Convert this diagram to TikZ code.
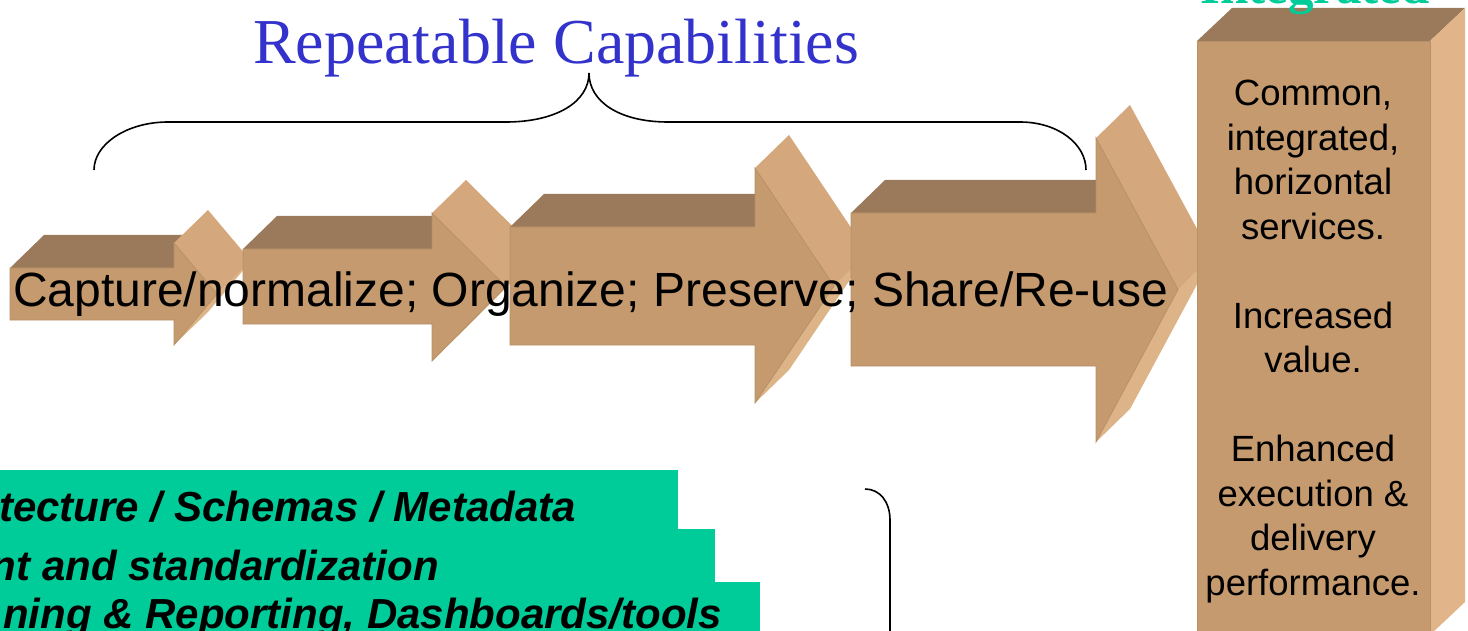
\documentclass[tikz,border=0pt]{standalone}
\usepackage{fontspec}
\setmainfont{Liberation Serif}
\newfontfamily\arialfont{Liberation Sans}
\definecolor{frontc}{HTML}{C49A6E}
\definecolor{topc}{HTML}{9A7A5A}
\definecolor{headupc}{HTML}{D4A87C}
\definecolor{headloc}{HTML}{DDB388}
\definecolor{sidec}{HTML}{E1B589}
\definecolor{edgec}{HTML}{B89066}
\definecolor{tealc}{HTML}{00CC99}
\definecolor{bluec}{HTML}{3333CC}
\newcommand{\dx}{34}
\newcommand{\dy}{-33}
% #1 x0, #2 ytop, #3 ybottom, #4 xhead, #5 yheadtop, #6 yheadbottom, #7 xtip
\newcommand{\tdarrow}[7]{%
  \pgfmathsetmacro\ym{(#2+#3)/2}%
  \fill[headloc] (#7,\ym) -- ++(\dx,\dy) -- (#4+\dx,#6+\dy) -- (#4,#6) -- cycle;
  \fill[topc] (#1,#2) -- (#4,#2) -- ++(\dx,\dy) -- (#1+\dx,#2+\dy) -- cycle;
  \fill[headupc] (#4,#5) -- ++(\dx,\dy) -- (#7+\dx,\ym+\dy) -- (#7,\ym) -- cycle;
  \draw[sidec, line width=0.8pt] (#4,#5) -- (#7,\ym);
  \filldraw[fill=frontc, draw=edgec, line width=0.8pt, line join=miter]
    (#1,#2) -- (#4,#2) -- (#4,#5) -- (#7,\ym) -- (#4,#6) -- (#4,#3) -- (#1,#3) -- cycle;
}
\tikzset{
  brace/.style={draw=black, line width=1.6pt},
  sans/.style={font=\arialfont, inner sep=0pt},
  greenbar/.style={fill=tealc},
  bartext/.style={font=\arialfont\bfseries\itshape\fontsize{42}{50}\selectfont, inner sep=0pt, anchor=base east}
}
\begin{document}
\begin{tikzpicture}[x=1pt,y=-1pt]
\useasboundingbox (0,0) rectangle (1468,631);
\clip (0,0) rectangle (1468,631);
% title
\node[font=\fontsize{64}{70}\selectfont, text=bluec, inner sep=0pt, anchor=base] (title) at (556,64) {Repeatable Capabilities};
% brace
\coordinate (bl) at (94,170);
\coordinate (bm) at (589,73);
\coordinate (br) at (1086,170);
\draw[brace] (bl) .. controls (94,144) and (127,122) .. (168,122) -- (506,122)
  .. controls (556,122) and (589,102) .. (bm)
  .. controls (589,102) and (620,122) .. (668,122) -- (1020,122)
  .. controls (1058,122) and (1086,144) .. (br);
% arrows
\tdarrow{10}{268}{320}{174}{243}{345}{217}
\tdarrow{243}{249}{324}{432}{213}{361}{506}
\tdarrow{510}{227}{345}{755}{168}{403}{834}
\tdarrow{851}{213}{366}{1096}{138}{442}{1178}
% right box
\fill[topc] (1197,41) -- (1430,41) -- (1465,8) -- (1232,8) -- cycle;
\fill[sidec] (1430,41) -- (1465,8) -- (1465,602) -- (1430,635) -- cycle;
\filldraw[fill=frontc, draw=edgec, line width=0.8pt] (1197,41) rectangle (1430,640);
\node[font=\bfseries\fontsize{51}{56}\selectfont, text=tealc, inner sep=0pt, anchor=base] (integ) at (1315,4) {Integrated};
% main text
\node[sans, font=\arialfont\fontsize{48}{56}\selectfont, anchor=base west] (main) at (13,306) {Capture/normalize; Organize; Preserve; Share/Re-use};
% box text
\node[sans, font=\arialfont\fontsize{36.5}{44.5}\selectfont, align=center, anchor=north] (boxtext) at (1313,80)
  {Common,\\integrated,\\horizontal\\services.\\[44.5pt]Increased\\value.\\[44.5pt]Enhanced\\execution \&\\delivery\\performance.};
% green bars
\fill[greenbar] (-5,470) rectangle (678,529);
\fill[greenbar] (-5,529) rectangle (715,582);
\fill[greenbar] (-5,582) rectangle (760,640);
\node[bartext] (bar1) at (576,521) {tecture / Schemas / Metadata};
\node[bartext] (bar2) at (439,580) {nt and standardization};
\node[bartext] (bar3) at (722,628) {ning \& Reporting, Dashboards/tools};
% bottom bracket
\coordinate (kb1) at (865,489);
\coordinate (kb2) at (890,640);
\draw[brace] (kb1) .. controls (880,489) and (890,502) .. (890,520) -- (kb2);
\end{tikzpicture}
\end{document}
